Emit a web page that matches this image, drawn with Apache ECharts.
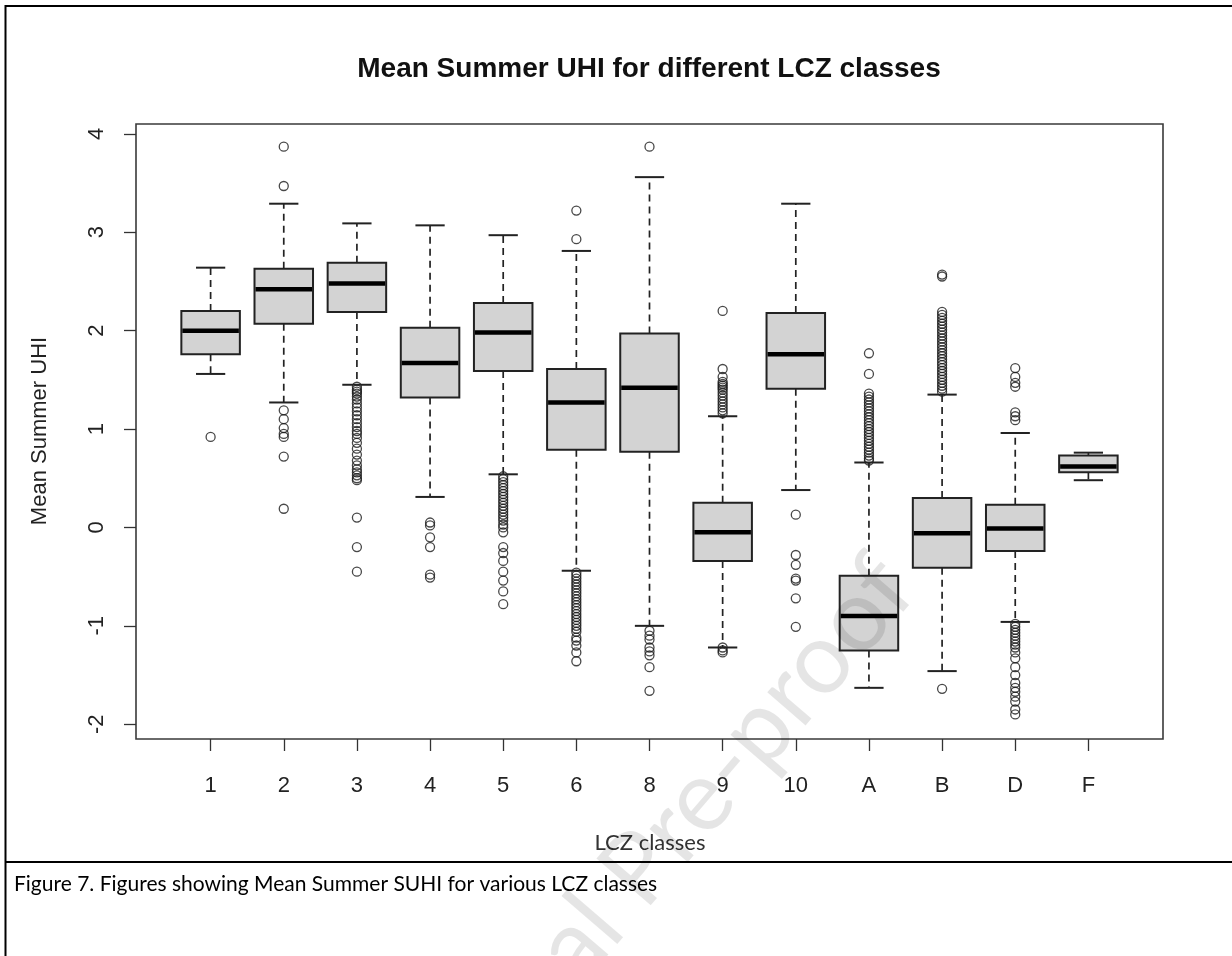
<!DOCTYPE html>
<html>
<head>
<meta charset="utf-8">
<script src="https://cdn.jsdelivr.net/npm/echarts@6/dist/echarts.min.js"></script>
<style>
  html, body { margin: 0; padding: 0; background: #ffffff; }
  #chart { width: 1232px; height: 956px; }
</style>
</head>
<body>
<div id="chart"></div>
<script>
// ---- Data ----
const categories = ['1', '2', '3', '4', '5', '6', '8', '9', '10', 'A', 'B', 'D', 'F'];
const whiskerLow  = [1.56, 1.27, 1.45, 0.31, 0.54, -0.44, -1.00, -1.22, 0.38, -1.63, -1.46, -0.96, 0.48];
const quartile1   = [1.76, 2.07, 2.19, 1.32, 1.59,  0.79,  0.77, -0.34, 1.41, -1.25, -0.41, -0.24, 0.56];
const medians     = [2.00, 2.42, 2.48, 1.67, 1.98,  1.27,  1.42, -0.05, 1.76, -0.90, -0.06, -0.01, 0.62];
const quartile3   = [2.20, 2.63, 2.69, 2.03, 2.28,  1.61,  1.97,  0.25, 2.18, -0.49,  0.30,  0.23, 0.73];
const whiskerHigh = [2.64, 3.29, 3.09, 3.07, 2.97,  2.81,  3.56,  1.13, 3.29,  0.66,  1.35,  0.96, 0.76];

const outliers = [
  [0.92],
  [3.87, 3.47, 1.19, 1.10, 1.01, 0.95, 0.92, 0.72, 0.19],
  [1.43, 1.40, 1.38, 1.36, 1.33, 1.30, 1.26, 1.22, 1.18, 1.14, 1.10, 1.06, 1.02, 0.98, 0.95, 0.91,
   0.86, 0.80, 0.74, 0.68, 0.63, 0.59, 0.56, 0.53, 0.50, 0.48, 0.10, -0.20, -0.45],
  [0.05, 0.02, -0.10, -0.20, -0.48, -0.51],
  [0.52, 0.49, 0.46, 0.43, 0.40, 0.37, 0.34, 0.31, 0.28, 0.25, 0.22, 0.19, 0.16, 0.13, 0.10, 0.07,
   0.03, 0.00, -0.05, -0.20, -0.26, -0.34, -0.45, -0.54, -0.65, -0.78],
  [3.22, 2.93, -0.46, -0.49, -0.52, -0.55, -0.58, -0.61, -0.64, -0.67, -0.70, -0.73, -0.76, -0.79,
   -0.82, -0.85, -0.88, -0.91, -0.94, -0.97, -1.00, -1.03, -1.06, -1.12, -1.15, -1.20, -1.27, -1.36],
  [3.87, -1.05, -1.10, -1.14, -1.22, -1.26, -1.30, -1.42, -1.66],
  [2.20, 1.61, 1.53, 1.48, 1.46, 1.44, 1.42, 1.40, 1.37, 1.34, 1.31, 1.28, 1.25, 1.22, 1.19, 1.16,
   -1.22, -1.25, -1.27],
  [0.13, -0.28, -0.38, -0.52, -0.54, -0.72, -1.01],
  [1.77, 1.56, 1.36, 1.33, 1.30, 1.27, 1.24, 1.21, 1.18, 1.15, 1.12, 1.09, 1.06, 1.03, 1.00, 0.97,
   0.94, 0.91, 0.88, 0.85, 0.82, 0.79, 0.76, 0.73, 0.70, 0.68],
  [2.57, 2.55, 2.19, 2.16, 2.13, 2.10, 2.07, 2.04, 2.01, 1.98, 1.95, 1.92, 1.89, 1.86, 1.83, 1.80,
   1.77, 1.74, 1.71, 1.68, 1.65, 1.62, 1.59, 1.56, 1.53, 1.50, 1.47, 1.44, 1.41, 1.38, -1.64],
  [1.62, 1.53, 1.47, 1.43, 1.17, 1.13, 1.09, -0.98, -1.01, -1.04, -1.07, -1.10, -1.13, -1.16, -1.19,
   -1.22, -1.27, -1.33, -1.42, -1.50, -1.58, -1.63, -1.67, -1.72, -1.77, -1.85, -1.90],
  []
];

const yTicks = [-2, -1, 0, 1, 2, 3, 4];
const xTicks = categories.map((c, i) => i + 1);

const titleText = 'Mean Summer UHI for different LCZ classes';
const xTitle = 'LCZ classes';
const yTitle = 'Mean Summer UHI';
const captionText = 'Figure 7. Figures showing Mean Summer SUHI for various LCZ classes';
const watermarkText = 'Journal Pre-proof';

// ---- Build series data ----
const boxData = categories.map((c, i) => [i + 1, whiskerLow[i], quartile1[i], medians[i], quartile3[i], whiskerHigh[i]]);
const outlierData = [];
outliers.forEach((arr, i) => arr.forEach(v => outlierData.push([i + 1, v])));

const lineCol = '#222222';
const font = '"Liberation Sans", Arial, sans-serif';

const chart = echarts.init(document.getElementById('chart'), null, { renderer: 'canvas' });

chart.setOption({
  animation: false,
  backgroundColor: '#ffffff',
  grid: {
    left: 136, top: 124, width: 1027, height: 615,
    show: true, borderColor: '#3a3a3a', borderWidth: 1.6, backgroundColor: 'transparent'
  },
  xAxis: {
    type: 'value', min: -0.02, max: 14.02, position: 'bottom',
    axisLine: { show: false, onZero: false },
    splitLine: { show: false },
    axisTick: { show: true, customValues: xTicks, length: 12, lineStyle: { color: '#333', width: 1.3 } },
    axisLabel: {
      customValues: xTicks, margin: 36, fontSize: 22, fontFamily: font, color: '#222',
      formatter: v => categories[Math.round(v) - 1]
    }
  },
  yAxis: {
    type: 'value', min: -2.15, max: 4.10, position: 'left',
    axisLine: { show: false, onZero: false },
    splitLine: { show: false },
    axisTick: { show: true, customValues: yTicks, length: 12, lineStyle: { color: '#333', width: 1.3 } },
    axisLabel: {
      customValues: yTicks, rotate: 90, margin: 28, fontSize: 22, fontFamily: font, color: '#222'
    }
  },
  series: [
    {
      type: 'scatter',
      data: outlierData,
      symbol: 'circle',
      symbolSize: 9,
      itemStyle: { color: 'rgba(0,0,0,0)', borderColor: '#1a1a1a', borderWidth: 1.3 },
      z: 2
    },
    {
      type: 'custom',
      data: boxData,
      encode: { x: 0, y: [1, 2, 3, 4, 5] },
      z: 3,
      renderItem: function (params, api) {
        const x = api.value(0);
        const lo = api.coord([x, api.value(1)]);
        const q1 = api.coord([x, api.value(2)]);
        const md = api.coord([x, api.value(3)]);
        const q3 = api.coord([x, api.value(4)]);
        const hi = api.coord([x, api.value(5)]);
        const boxW = api.size([0.8, 0])[0];
        const capW = boxW / 2;
        const cx = lo[0];
        const dashStyle = { stroke: lineCol, lineWidth: 1.7, lineDash: [7, 5] };
        const solid = { stroke: lineCol, lineWidth: 2 };
        return {
          type: 'group',
          children: [
            { type: 'line', shape: { x1: cx, y1: q3[1], x2: cx, y2: hi[1] }, style: dashStyle },
            { type: 'line', shape: { x1: cx, y1: q1[1], x2: cx, y2: lo[1] }, style: dashStyle },
            { type: 'line', shape: { x1: cx - capW / 2, y1: hi[1], x2: cx + capW / 2, y2: hi[1] }, style: solid },
            { type: 'line', shape: { x1: cx - capW / 2, y1: lo[1], x2: cx + capW / 2, y2: lo[1] }, style: solid },
            { type: 'rect', shape: { x: cx - boxW / 2, y: q3[1], width: boxW, height: q1[1] - q3[1] },
              style: { fill: '#d3d3d3', stroke: lineCol, lineWidth: 2 } },
            { type: 'line', shape: { x1: cx - boxW / 2 + 1, y1: md[1], x2: cx + boxW / 2 - 1, y2: md[1] },
              style: { stroke: '#000', lineWidth: 4.5 } }
          ]
        };
      }
    }
  ],
  graphic: [
    // outer frame
    { type: 'line', shape: { x1: 5.5, y1: 5, x2: 5.5, y2: 956 }, style: { stroke: '#000', lineWidth: 2 } },
    { type: 'line', shape: { x1: 5, y1: 6, x2: 1232, y2: 6 }, style: { stroke: '#000', lineWidth: 2 } },
    { type: 'line', shape: { x1: 5, y1: 862, x2: 1232, y2: 862 }, style: { stroke: '#000', lineWidth: 2 } },
    // title
    { type: 'text', x: 649, y: 69,
      style: { text: titleText, font: 'bold 28px "Liberation Sans", Arial, sans-serif', fill: '#111',
               align: 'center', verticalAlign: 'middle' } },
    // y axis title
    { type: 'text', x: 40, y: 431, rotation: Math.PI / 2,
      style: { text: yTitle, font: '22px "Liberation Sans", Arial, sans-serif', fill: '#222',
               align: 'center', verticalAlign: 'middle' } },
    // x axis title
    { type: 'text', x: 650, y: 843,
      style: { text: xTitle, font: '22px Lato, sans-serif', fill: '#333',
               align: 'center', verticalAlign: 'middle' } },
    // caption
    { type: 'text', x: 14, y: 884,
      style: { text: captionText, font: '21px Lato, sans-serif', fill: '#000',
               align: 'left', verticalAlign: 'middle' } },
    // watermark
    { type: 'text', x: 895, y: 572, rotation: 0.86, z: 100,
      style: { text: watermarkText, font: '100px Lato, sans-serif', fill: 'rgba(0,0,0,0.10)',
               align: 'right', verticalAlign: 'middle' } }
  ]
});
</script>
</body>
</html>
